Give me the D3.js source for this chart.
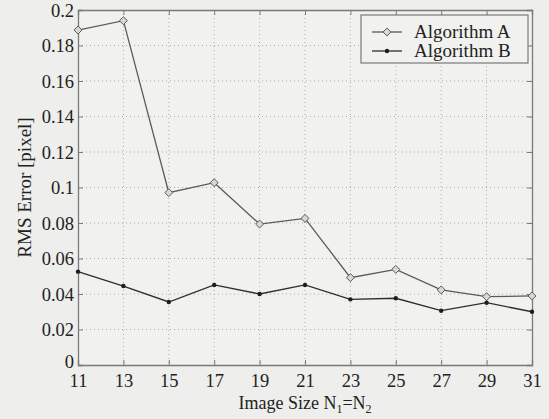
<!DOCTYPE html>
<html><head><meta charset="utf-8">
<script src="https://cdn.jsdelivr.net/npm/d3@7"></script>
<style>body{margin:0;background:#eeeeec;} svg{display:block;}</style>
</head><body>
<svg id="c" width="549" height="419"></svg>
<script>
const sizes = [11,13,15,17,19,21,23,25,27,29,31];
const algA = [0.1887,0.1940,0.0971,0.1027,0.0794,0.0826,0.0492,0.0539,0.0423,0.0385,0.0389];
const algB = [0.0526,0.0445,0.0355,0.0451,0.0400,0.0451,0.0370,0.0376,0.0306,0.0351,0.0300];
const yTicks = [0,0.02,0.04,0.06,0.08,0.1,0.12,0.14,0.16,0.18,0.2];
const yTickLabels = ["0","0.02","0.04","0.06","0.08","0.1","0.12","0.14","0.16","0.18","0.2"];
const seriesNames = ["Algorithm A","Algorithm B"];

(function(){
const svg = d3.select("#c");
const L=78, R=532, T=10, B=365;
const x = d3.scaleLinear().domain([11,31]).range([L,R]);
const y = d3.scaleLinear().domain([0,0.2]).range([B,T]);
const font = "'Liberation Serif','Times New Roman',serif";
const axisCol = "#7a7a7a", txtCol="#222";
const fs = 18.5;

svg.append("rect").attr("width",549).attr("height",419).attr("fill","#eeeeec");
svg.append("rect").attr("x",L).attr("y",T).attr("width",R-L).attr("height",B-T).attr("fill","#f1f1ef");

// grid
const g = svg.append("g");
g.selectAll("line.gx").data(sizes.slice(1,-1)).join("line")
 .attr("x1",d=>x(d)).attr("x2",d=>x(d)).attr("y1",T).attr("y2",B)
 .attr("stroke","#9a9a9a").attr("stroke-width",0.8).attr("stroke-dasharray","1,3");
g.selectAll("line.gy").data(yTicks.slice(1,-1)).join("line")
 .attr("y1",d=>y(d)).attr("y2",d=>y(d)).attr("x1",L).attr("x2",R)
 .attr("stroke","#9a9a9a").attr("stroke-width",0.8).attr("stroke-dasharray","1,3");

// axes with inward ticks
const ax = svg.append("g");
const axB = ax.append("g").attr("transform",`translate(0,${B})`)
 .call(d3.axisBottom(x).tickValues(sizes).tickSize(-5).tickPadding(8).tickFormat(d3.format("d")));
const axT = ax.append("g").attr("transform",`translate(0,${T})`)
 .call(d3.axisTop(x).tickValues(sizes).tickSize(-5).tickFormat(""));
const axL = ax.append("g").attr("transform",`translate(${L},0)`)
 .call(d3.axisLeft(y).tickValues(yTicks).tickSize(-5).tickPadding(4).tickFormat((d,i)=>yTickLabels[i]));
const axR = ax.append("g").attr("transform",`translate(${R},0)`)
 .call(d3.axisRight(y).tickValues(yTicks).tickSize(-5).tickFormat(""));
[axB,axT,axL,axR].forEach(a=>{
  a.select(".domain").attr("stroke",axisCol).attr("stroke-width",1.3);
  a.selectAll(".tick line").attr("stroke",axisCol).attr("stroke-width",1);
  a.selectAll(".tick text").attr("font-family",font).attr("font-size",fs).attr("fill",txtCol);
});
axB.selectAll(".tick text").attr("dy","0.74em");
axL.selectAll(".tick text").attr("dy",d=>d===0?"0.12em":"0.35em");

// lines
const line = d3.line().x((d,i)=>x(sizes[i])).y(d=>y(d));
svg.append("path").datum(algA).attr("d",line).attr("fill","none").attr("stroke","#5a5a5a").attr("stroke-width",1.3);
svg.append("path").datum(algB).attr("d",line).attr("fill","none").attr("stroke","#2e2e2e").attr("stroke-width",1.3);
const diamond = d3.symbol().type(d3.symbolDiamond2).size(40);
svg.selectAll("path.ma").data(algA).join("path").attr("class","ma")
 .attr("transform",(d,i)=>`translate(${x(sizes[i])},${y(d)})`).attr("d",diamond)
 .attr("fill","#d8d8d6").attr("stroke","#5a5a5a").attr("stroke-width",1);
svg.selectAll("circle.mb").data(algB).join("circle").attr("class","mb")
 .attr("cx",(d,i)=>x(sizes[i])).attr("cy",d=>y(d)).attr("r",2.2).attr("fill","#1e1e1e");

// legend
const lg = svg.append("g");
lg.append("rect").attr("x",361).attr("y",15).attr("width",167).attr("height",48)
 .attr("fill","#f1f1ef").attr("stroke",axisCol).attr("stroke-width",1.2);
const ly = [32,51];
seriesNames.forEach((n,i)=>{
  lg.append("line").attr("x1",372).attr("x2",402).attr("y1",ly[i]).attr("y2",ly[i])
   .attr("stroke",i===0?"#5a5a5a":"#2e2e2e").attr("stroke-width",1.3);
  if(i===0) lg.append("path").attr("transform",`translate(387,${ly[i]})`).attr("d",diamond)
   .attr("fill","#d8d8d6").attr("stroke","#5a5a5a");
  else lg.append("circle").attr("cx",387).attr("cy",ly[i]).attr("r",2.2).attr("fill","#1e1e1e");
  lg.append("text").attr("x",414).attr("y",ly[i]+6).attr("font-family",font).attr("font-size",19)
   .attr("fill",txtCol).text(n);
});

// axis titles
const xt = svg.append("text").attr("x",(L+R)/2).attr("y",409).attr("text-anchor","middle")
 .attr("font-family",font).attr("font-size",18).attr("fill",txtCol);
xt.append("tspan").text("Image Size N");
xt.append("tspan").attr("font-size",12).attr("dy",4).text("1");
xt.append("tspan").attr("dy",-4).text("=N");
xt.append("tspan").attr("font-size",12).attr("dy",4).text("2");
svg.append("text").attr("transform",`translate(31,${(T+B)/2}) rotate(-90)`).attr("text-anchor","middle")
 .attr("font-family",font).attr("font-size",19).attr("fill",txtCol).text("RMS Error [pixel]");
})();
</script>
</body></html>
